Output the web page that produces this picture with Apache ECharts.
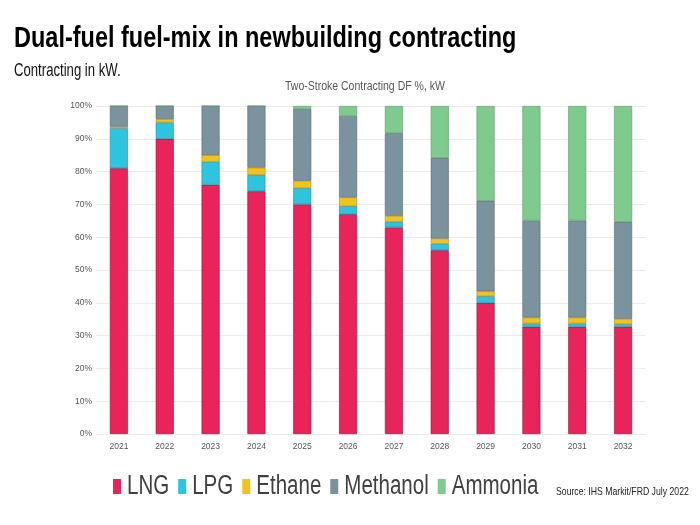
<!DOCTYPE html>
<html>
<head>
<meta charset="utf-8">
<script src="https://cdn.jsdelivr.net/npm/echarts@6/dist/echarts.min.js"></script>
<style>
html,body{margin:0;padding:0;background:#fff;}
#chart{width:700px;height:525px;}
</style>
</head>
<body>
<div id="chart"></div>
<script>
var categories = ['2021','2022','2023','2024','2025','2026','2027','2028','2029','2030','2031','2032'];
var LNG      = [81, 90, 76, 74, 70, 67, 63, 56, 40, 32.7, 32.7, 32.7];
var LPG      = [12.2, 5, 7, 5, 5, 2.5, 1.7, 2, 2, 1, 1, 0.8];
var Ethane   = [0.5, 1, 2, 2.2, 2.2, 2.6, 1.8, 1.6, 1.5, 1.8, 1.8, 1.6];
var Methanol = [6.3, 4, 15, 18.8, 21.9, 24.9, 25.2, 24.6, 27.6, 29.6, 29.6, 29.6];
var Ammonia  = [0, 0, 0, 0, 0.9, 3, 8.3, 15.8, 28.9, 34.9, 34.9, 35.3];
var seriesNames = ['LNG','LPG','Ethane','Methanol','Ammonia'];
var seriesData = [LNG, LPG, Ethane, Methanol, Ammonia];
var colors  = ['#E8245A','#2EC4E0','#F2C31B','#7A939E','#7FCB8D'];
var borders = ['#8a1236','#1f8aa0','#b38d10','#566a73','#5c9a68'];

var FONT = '"Liberation Sans", Arial, sans-serif';

// narrow-looking text: regular font compressed horizontally
function narrowText(str, x, y, size, weight, color, sx) {
  return {
    type: 'text', x: x, y: y, scaleX: sx, silent: true,
    style: { text: str, font: weight + ' ' + size + 'px ' + FONT, fill: color,
             align: 'left', verticalAlign: 'middle' }
  };
}

// legend drawn with compressed text
var measureCtx = document.createElement('canvas').getContext('2d');
var LEG_SIZE = 27, LEG_SX = 0.76;
measureCtx.font = LEG_SIZE + 'px ' + FONT;
var legendEls = [];
var lx = 113;
seriesNames.forEach(function (n, i) {
  legendEls.push({ type: 'rect', silent: true,
    shape: { x: lx, y: 479, width: 8, height: 15 },
    style: { fill: colors[i] } });
  var tx = lx + 14;
  legendEls.push(narrowText(n, tx, 487, LEG_SIZE, 'normal', '#404040', LEG_SX));
  lx = tx + measureCtx.measureText(n).width * LEG_SX + 9;
});

var chart = echarts.init(document.getElementById('chart'));
var option = {
  backgroundColor: '#ffffff',
  animation: false,
  color: colors,
  legend: { show: false, data: seriesNames },
  grid: { left: 96, right: 54, top: 106, bottom: 91, containLabel: false },
  xAxis: {
    type: 'category', data: categories,
    axisLine: { show: false }, axisTick: { show: false },
    axisLabel: { fontFamily: FONT, fontSize: 8.5, color: '#555', margin: 8 }
  },
  yAxis: {
    type: 'value', min: 0, max: 100, interval: 10,
    axisLine: { show: false }, axisTick: { show: false },
    axisLabel: { formatter: '{value}%', fontFamily: FONT, fontSize: 8.5, color: '#555', margin: 4 },
    splitLine: { lineStyle: { color: '#ebebeb', width: 1 } }
  },
  series: seriesNames.map(function (n, i) {
    return {
      name: n, type: 'bar', stack: 'total', barWidth: 18,
      data: seriesData[i],
      itemStyle: { color: colors[i], borderColor: borders[i], borderWidth: 0.6 }
    };
  }),
  graphic: [
    narrowText('Dual-fuel fuel-mix in newbuilding contracting', 14, 38.5, 29, 'bold', '#000', 0.81),
    narrowText('Contracting in kW.', 14, 71.5, 18, 'normal', '#111', 0.73),
    narrowText('Two-Stroke Contracting DF %, kW', 285, 86.5, 12.5, 'normal', '#555', 0.84),
    narrowText('Source: IHS Markit/FRD July 2022', 556, 492, 11, 'normal', '#222', 0.79)
  ].concat(legendEls)
};
chart.setOption(option);
</script>
</body>
</html>
